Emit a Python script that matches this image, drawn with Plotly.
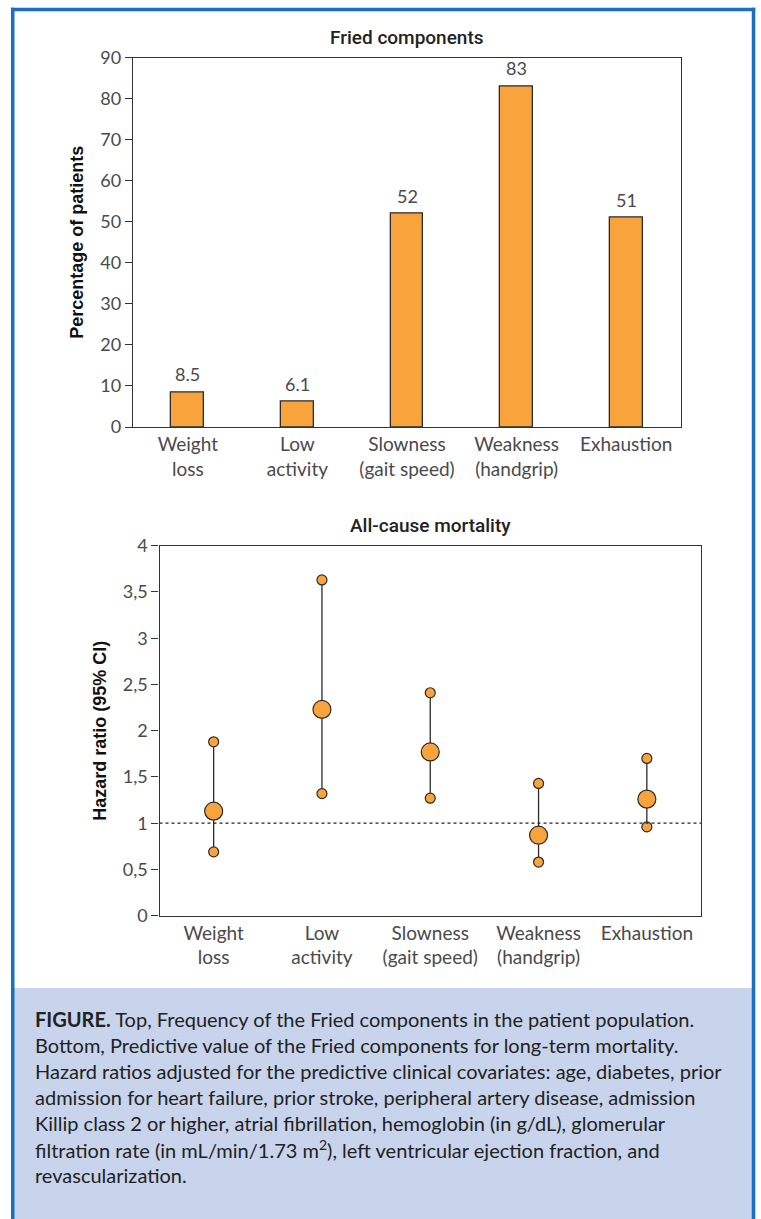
import plotly.graph_objects as go

W, H = 761, 1219

categories = ["Weight<br>loss", "Low<br>activity", "Slowness<br>(gait speed)", "Weakness<br>(handgrip)", "Exhaustion"]
pct_values = [8.5, 6.1, 52, 83, 51]
pct_labels = ["8.5", "6.1", "52", "83", "51"]

hr_point = [1.13, 2.23, 1.77, 0.87, 1.26]
hr_lower = [0.69, 1.32, 1.27, 0.58, 0.96]
hr_upper = [1.88, 3.63, 2.41, 1.43, 1.70]

top_ticks = [0, 10, 20, 30, 40, 50, 60, 70, 80, 90]
bot_tickvals = [0, 0.5, 1, 1.5, 2, 2.5, 3, 3.5, 4]
bot_ticktext = ["0", "0,5", "1", "1,5", "2", "2,5", "3", "3,5", "4"]

caption_lines = [
    "<b>FIGURE.</b> Top, Frequency of the Fried components in the patient population.",
    "Bottom, Predictive value of the Fried components for long-term mortality.",
    "Hazard ratios adjusted for the predictive clinical covariates: age, diabetes, prior",
    "admission for heart failure, prior stroke, peripheral artery disease, admission",
    "Killip class 2 or higher, atrial fibrillation, hemoglobin (in g/dL), glomerular",
    "filtration rate (in mL/min/1.73 m<sup>2</sup>), left ventricular ejection fraction, and",
    "revascularization.",
]

ORANGE = "#F8A33C"
EDGE = "#2b2b2b"
AX = "#333333"
TICKC = "#4a4a4a"
TFONT = "Lato"
BLUE = "#1B6FC0"

def px(x):
    return x / W

def py(y):
    return 1 - y / H

xs = list(range(len(categories)))

fig = go.Figure()

fig.add_trace(go.Bar(
    x=xs, y=pct_values, width=0.3,
    marker=dict(color=ORANGE, line=dict(color=EDGE, width=1.3)),
    xaxis="x", yaxis="y", showlegend=False, hoverinfo="skip",
))

fig.add_trace(go.Scatter(
    x=xs, y=hr_point, mode="markers",
    marker=dict(size=0.1, color="rgba(0,0,0,0)"),
    error_y=dict(type="data", symmetric=False,
                 array=[u - p for u, p in zip(hr_upper, hr_point)],
                 arrayminus=[p - l for p, l in zip(hr_point, hr_lower)],
                 width=0, thickness=1.3, color=EDGE),
    xaxis="x2", yaxis="y2", showlegend=False, hoverinfo="skip",
))
fig.add_trace(go.Scatter(
    x=xs + xs, y=hr_lower + hr_upper, mode="markers",
    marker=dict(size=10, color=ORANGE, line=dict(color=EDGE, width=1.2)),
    xaxis="x2", yaxis="y2", showlegend=False, hoverinfo="skip",
))
fig.add_trace(go.Scatter(
    x=xs, y=hr_point, mode="markers",
    marker=dict(size=18, color=ORANGE, line=dict(color=EDGE, width=1.2)),
    xaxis="x2", yaxis="y2", showlegend=False, hoverinfo="skip",
))

annotations = []
for i, (v, t) in enumerate(zip(pct_values, pct_labels)):
    annotations.append(dict(x=i, y=v, xref="x", yref="y", text=t, showarrow=False,
                            yanchor="middle", yshift=18,
                            font=dict(family=TFONT, size=18, color=TICKC)))

annotations.append(dict(x=px(407), y=py(38), xref="paper", yref="paper",
                        text="Fried components", showarrow=False, yanchor="middle",
                        font=dict(family="Roboto", size=19, color="#222", weight=500)))
annotations.append(dict(x=px(430), y=py(525), xref="paper", yref="paper",
                        text="All-cause mortality", showarrow=False, yanchor="middle",
                        font=dict(family="Roboto", size=19, color="#222", weight=500)))

cap_top = 1019
for k, line in enumerate(caption_lines):
    annotations.append(dict(x=px(33), y=py(cap_top + 26 * k), xref="paper", yref="paper",
                            xanchor="left", yanchor="middle", text=line, showarrow=False,
                            font=dict(family=TFONT, size=20, color="#222")))

shapes = [
    dict(type="rect", xref="paper", yref="paper", x0=px(14), x1=px(752), y0=0, y1=py(988),
         fillcolor="#C7D4EB", line=dict(width=0), layer="below"),
    dict(type="line", xref="paper", yref="paper", x0=px(12.75), x1=px(12.75), y0=0, y1=py(7.75),
         line=dict(color=BLUE, width=3.5), layer="above"),
    dict(type="line", xref="paper", yref="paper", x0=px(11), x1=px(755.25), y0=py(9.5), y1=py(9.5),
         line=dict(color=BLUE, width=3.5), layer="above"),
    dict(type="line", xref="paper", yref="paper", x0=px(753.5), x1=px(753.5), y0=0, y1=py(7.75),
         line=dict(color=BLUE, width=3.5), layer="above"),
    dict(type="line", xref="x2", yref="y2", x0=-0.5, x1=4.5, y0=1, y1=1,
         line=dict(color="#222", width=1.2, dash="dot")),
]

axis_common = dict(showgrid=False, zeroline=False, showline=True, linecolor=AX, linewidth=1.3,
                   mirror=True, automargin=False)

fig.update_layout(
    width=W, height=H,
    margin=dict(l=0, r=0, t=0, b=0, pad=0, autoexpand=False),
    paper_bgcolor="white", plot_bgcolor="white",
    bargap=0,
    xaxis=dict(domain=[px(133), px(681)], anchor="y", range=[-0.5, 4.5],
               tickvals=xs, ticktext=categories, ticks="",
               tickfont=dict(family=TFONT, size=19, color=TICKC), **axis_common),
    yaxis=dict(domain=[py(427), py(57.5)], anchor="x", range=[0, 90],
               tickvals=top_ticks, ticks="outside", ticklen=7, tickcolor=AX, tickwidth=1.3,
               tickfont=dict(family=TFONT, size=18, color=TICKC),
               title=dict(text="<b>Percentage of patients</b>", standoff=12,
                          font=dict(family="Liberation Sans", size=18, color="#111")),
               **axis_common),
    xaxis2=dict(domain=[px(159.5), px(701)], anchor="y2", range=[-0.5, 4.5],
                tickvals=xs, ticktext=categories, ticks="",
                tickfont=dict(family=TFONT, size=19, color=TICKC), **axis_common),
    yaxis2=dict(domain=[py(915.7), py(545.7)], anchor="x2", range=[0, 4],
                tickvals=bot_tickvals, ticktext=bot_ticktext,
                ticks="outside", ticklen=7, tickcolor=AX, tickwidth=1.3,
                tickfont=dict(family=TFONT, size=18, color=TICKC),
                title=dict(text="<b>Hazard ratio (95% CI)</b>", standoff=11,
                           font=dict(family="Liberation Sans", size=18, color="#111")),
                **axis_common),
    annotations=annotations,
    shapes=shapes,
)

fig.write_html("out.html", config={"displayModeBar": False},
               post_script="document.body.style.margin='0';document.body.style.overflow='hidden';")
